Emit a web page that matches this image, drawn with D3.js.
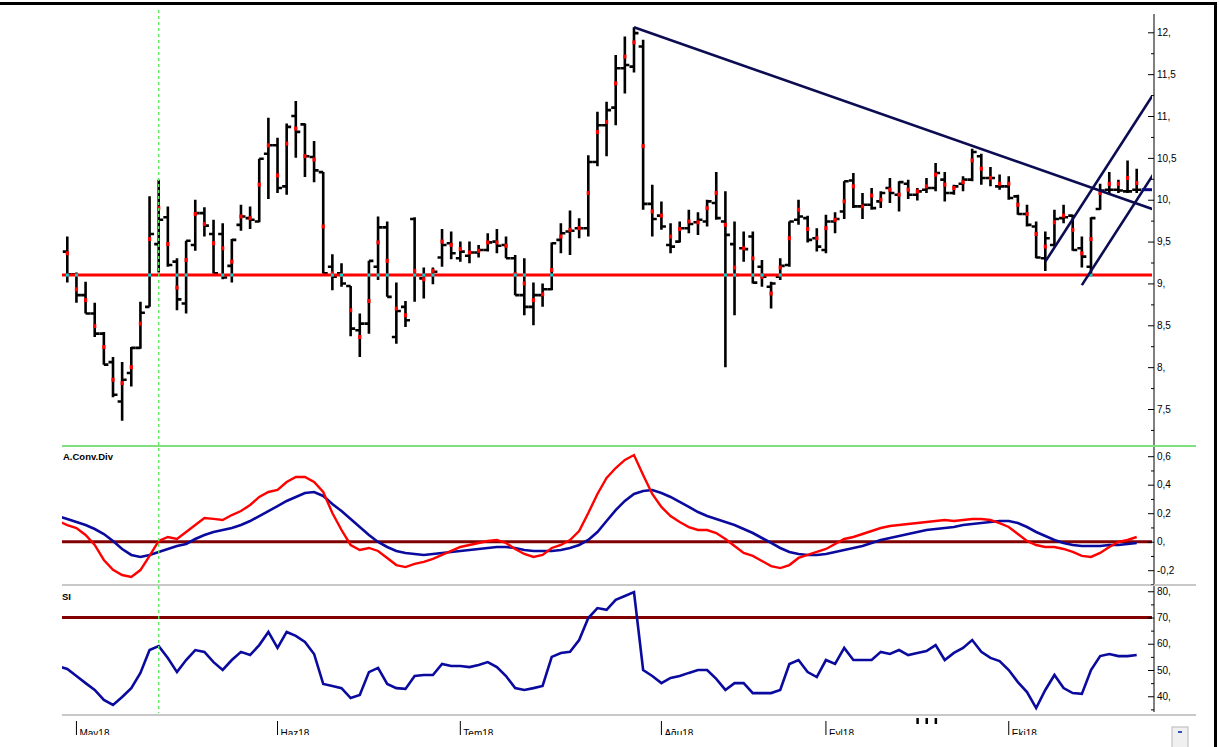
<!DOCTYPE html>
<html>
<head>
<meta charset="utf-8">
<script src="https://cdn.jsdelivr.net/npm/d3@7"></script>
<style>
  body { margin: 0; background: #fff; }
  svg { display: block; }
  text { font-family: "Liberation Sans", Arial, sans-serif; font-size: 10px; fill: #000; }
</style>
</head>
<body>
<div id="chart"></div>
<script>
// daily bars, 30 Apr 2018 .. 19 Oct 2018
const opens = [9.38,9.11,8.86,8.64,8.40,8.06,7.59,7.93,8.23,8.72,
  9.47,9.79,9.26,8.76,9.46,9.84,9.59,9.59,9.21,9.70,
  9.78,9.74,10.55,10.65,10.16,11.00,10.90,10.51,10.33,9.20,
  9.12,8.97,8.44,8.52,9.20,9.67,8.36,8.72,9.77,9.06,
  9.10,9.31,9.48,9.30,9.33,9.37,9.40,9.50,9.46,9.30,
  8.86,8.72,8.86,8.93,9.52,9.62,9.66,9.66,10.45,10.89,
  11.10,11.57,11.59,11.83,9.95,9.81,9.46,9.50,9.66,9.73,
  9.74,9.96,9.74,9.47,9.42,9.56,9.20,8.96,9.08,9.22,
  9.76,9.78,9.54,9.40,9.74,9.86,10.23,9.92,9.94,9.98,
  10.14,10.06,10.19,10.06,10.12,10.14,10.24,10.08,10.19,10.24,
  10.52,10.26,10.16,10.16,10.04,9.83,9.68,9.30,9.46,9.78,
  9.81,9.42,9.20,9.89,10.12,10.12,10.10,10.12];
const highs = [9.56,9.13,9.02,8.77,8.42,8.12,8.06,8.24,8.78,10.04,
  10.24,9.92,9.30,9.51,10.00,9.91,9.76,9.72,9.53,9.94,
  9.92,10.49,10.98,10.74,10.91,11.18,10.91,10.70,10.33,9.35,
  9.24,8.97,8.64,9.27,9.80,9.74,9.01,8.79,9.79,9.19,
  9.19,9.65,9.62,9.50,9.50,9.46,9.60,9.65,9.56,9.34,
  9.30,9.01,9.00,9.49,9.72,9.87,9.78,10.53,11.05,11.17,
  11.73,11.95,12.06,11.91,10.18,9.98,9.72,9.74,9.88,9.85,
  10.00,10.33,10.10,9.74,9.62,9.62,9.28,9.02,9.30,9.74,
  10.00,9.81,9.66,9.82,9.85,10.22,10.32,10.08,10.14,10.10,
  10.26,10.22,10.24,10.14,10.26,10.44,10.33,10.18,10.28,10.61,
  10.55,10.39,10.30,10.28,10.06,9.94,9.74,9.62,9.88,9.94,
  9.82,9.56,9.79,10.19,10.33,10.24,10.47,10.37];
const lows = [9.01,8.77,8.64,8.36,8.03,7.64,7.36,7.77,8.22,8.72,
  9.13,9.20,8.68,8.64,9.39,9.56,9.12,9.05,9.01,9.63,
  9.65,9.73,10.01,10.08,10.06,10.50,10.27,10.21,9.12,8.92,
  8.96,8.37,8.12,8.40,9.04,8.84,8.28,8.48,8.78,8.82,
  8.99,9.20,9.29,9.26,9.24,9.31,9.38,9.36,9.30,8.86,
  8.62,8.50,8.72,8.92,9.36,9.34,9.54,9.56,10.40,10.52,
  10.89,11.27,11.52,9.88,9.56,9.64,9.36,9.49,9.60,9.58,
  9.68,9.76,8.00,8.62,9.26,9.00,8.96,8.70,9.04,9.20,
  9.70,9.49,9.38,9.36,9.60,9.77,9.90,9.77,9.88,9.90,
  9.96,9.86,10.01,9.99,10.08,10.10,9.98,10.06,10.10,10.22,
  10.18,10.16,10.12,10.00,9.82,9.68,9.30,9.15,9.44,9.72,
  9.39,9.19,9.10,9.88,10.08,10.08,10.08,10.08];
const closes = [9.11,8.86,8.64,8.40,8.03,7.67,7.85,8.23,8.65,9.59,
  9.76,9.22,8.81,9.51,9.84,9.69,9.12,9.07,9.52,9.80,
  9.76,10.49,10.65,10.14,10.87,10.81,10.52,10.35,9.12,9.08,
  9.00,8.46,8.52,9.27,9.67,8.84,8.67,8.56,9.10,9.10,
  9.14,9.46,9.36,9.38,9.37,9.40,9.49,9.45,9.30,8.86,
  8.72,8.86,8.93,9.48,9.60,9.63,9.66,10.45,10.89,11.07,
  11.57,11.61,11.99,9.95,9.77,9.68,9.44,9.66,9.71,9.76,
  9.98,9.78,9.58,9.10,9.41,9.01,9.08,9.00,9.21,9.74,
  9.80,9.52,9.44,9.74,9.77,10.22,9.92,9.94,9.90,10.08,
  10.08,10.21,10.06,10.10,10.14,10.32,10.08,10.16,10.24,10.57,
  10.26,10.26,10.16,10.02,9.83,9.70,9.31,9.54,9.77,9.79,
  9.40,9.32,9.78,10.11,10.12,10.11,10.10,10.12];
// weighted average price of each day (red mark on the bar)
const avgs = [9.36,8.93,8.80,8.49,8.24,7.85,7.81,8.00,8.52,9.53,
  9.90,9.47,8.95,9.28,9.83,9.71,9.48,9.42,9.26,9.80,
  9.78,10.18,10.65,10.29,10.67,10.85,10.52,10.48,9.68,9.12,
  9.10,8.68,8.36,8.79,9.49,9.27,8.70,8.62,9.15,9.05,
  9.15,9.50,9.46,9.41,9.37,9.39,9.49,9.49,9.45,9.11,
  9.00,8.80,8.87,9.16,9.56,9.64,9.66,10.08,10.81,10.93,
  11.39,11.71,11.88,10.64,9.86,9.81,9.56,9.65,9.74,9.73,
  9.90,10.08,9.70,9.19,9.42,9.30,9.08,8.88,9.19,9.54,
  9.88,9.65,9.54,9.66,9.76,9.98,10.16,9.92,10.05,10.00,
  10.12,10.06,10.12,10.10,10.16,10.30,10.18,10.14,10.21,10.47,
  10.37,10.26,10.19,10.19,9.94,9.83,9.59,9.44,9.73,9.81,
  9.64,9.36,9.53,10.08,10.19,10.19,10.26,10.20];

// indicator series start one bar before the first visible bar
const indStart = -1;
const macdLine = [0.145,0.117,0.096,0.047,-0.023,-0.128,-0.198,-0.234,-0.248,-0.199,
  -0.10,0.005,0.033,0.019,0.068,0.117,0.166,0.16,0.152,0.187,
  0.215,0.258,0.314,0.349,0.363,0.419,0.454,0.454,0.419,0.349,
  0.201,0.082,-0.023,-0.058,-0.044,-0.065,-0.114,-0.164,-0.178,-0.156,
  -0.142,-0.121,-0.093,-0.065,-0.037,-0.023,-0.009,0.005,0.012,-0.009,
  -0.051,-0.086,-0.107,-0.093,-0.044,-0.023,0.012,0.075,0.201,0.335,
  0.447,0.517,0.574,0.608,0.468,0.335,0.244,0.18,0.138,0.103,
  0.082,0.082,0.061,0.019,-0.03,-0.079,-0.1,-0.135,-0.171,-0.185,
  -0.164,-0.114,-0.093,-0.072,-0.051,-0.016,0.019,0.033,0.054,0.075,
  0.096,0.11,0.117,0.124,0.131,0.138,0.145,0.152,0.145,0.152,
  0.159,0.159,0.152,0.131,0.103,0.054,0.005,-0.023,-0.037,-0.037,
  -0.051,-0.072,-0.1,-0.107,-0.079,-0.037,-0.002,0.012,0.033];
const signalLine = [0.18,0.159,0.138,0.117,0.089,0.054,0.005,-0.051,-0.093,-0.107,
  -0.093,-0.072,-0.051,-0.03,-0.016,0.019,0.047,0.068,0.082,0.096,
  0.117,0.145,0.18,0.215,0.25,0.286,0.314,0.342,0.349,0.321,
  0.265,0.215,0.159,0.103,0.047,-0.002,-0.037,-0.065,-0.079,-0.086,
  -0.093,-0.086,-0.079,-0.072,-0.065,-0.058,-0.051,-0.044,-0.037,-0.037,
  -0.044,-0.058,-0.065,-0.065,-0.065,-0.058,-0.044,-0.023,0.012,0.068,
  0.145,0.222,0.286,0.335,0.356,0.363,0.342,0.314,0.279,0.244,
  0.208,0.18,0.159,0.138,0.117,0.089,0.061,0.026,-0.009,-0.044,
  -0.072,-0.086,-0.093,-0.093,-0.086,-0.072,-0.058,-0.044,-0.03,-0.009,
  0.012,0.026,0.04,0.054,0.068,0.082,0.089,0.096,0.103,0.117,
  0.124,0.131,0.138,0.145,0.145,0.131,0.103,0.068,0.04,0.012,
  -0.009,-0.023,-0.03,-0.03,-0.03,-0.023,-0.023,-0.016,-0.009];
const rsiLine = [51.5,50.4,47.7,45.0,42.4,38.6,36.7,39.7,43.1,48.9,
  57.6,59.1,54.6,49.2,53.8,57.6,56.9,53.0,50.0,53.8,
  56.9,55.7,59.5,64.5,58.4,64.5,63.0,60.7,56.1,44.7,
  43.9,43.1,39.3,40.5,49.2,50.8,44.7,43.1,42.8,47.7,
  48.1,48.1,52.3,51.5,51.5,51.1,51.9,53.0,51.1,47.7,
  43.1,42.4,43.1,43.9,55.0,56.5,56.9,61.4,69.8,73.6,
  72.9,76.7,78.2,79.7,50.0,47.7,45.0,47.0,47.7,48.9,
  50.0,50.0,46.6,42.4,45.0,45.0,41.2,41.2,41.2,42.4,
  52.3,53.8,49.2,47.3,53.8,52.3,58.4,53.8,53.8,53.8,
  56.9,56.1,57.6,55.7,56.5,57.2,59.5,53.8,56.5,58.4,
  61.4,56.9,54.6,53.4,50.0,45.4,41.6,35.5,42.4,48.1,
  43.1,41.2,40.9,50.0,55.3,56.1,55.3,55.3,55.7];

const monthLabels = ["May18", "Haz18", "Tem18", "Ağu18", "Eyl18", "Eki18"];
const monthIdx = [1, 23, 43, 65, 83, 103];
const markIdx = [93, 94, 95];
const cursorIdx = 10;

const supportLevel = 9.1;
const rsiLevel = 70;
// drawn lines: [bar index, price]
const trendDown = [[62, 12.06], [118.7, 9.89]];
const channelUpper = [[107, 9.26], [118.7, 11.24]];
const channelLower = [[111, 8.98], [118.8, 10.30]];

const priceMajor = [7.5, 8, 8.5, 9, 9.5, 10, 10.5, 11, 11.5, 12];
const priceMinor = [7.25, 7.75, 8.25, 8.75, 9.25, 9.75, 10.25, 10.75, 11.25, 11.75, 12.25];
const macdMajor = [-0.2, 0, 0.2, 0.4, 0.6];
const macdMinor = [-0.3, -0.1, 0.1, 0.3, 0.5];
const rsiMajor = [40, 50, 60, 70, 80];
const rsiMinor = [35, 45, 55, 65, 75];

const W = 1219, H = 747;
const left = 62, right = 1152, axisX = 1154, sepRight = 1196;
const pricePanel = [6, 446], macdPanel = [447, 584], rsiPanel = [586, 714];

const svg = d3.select("#chart").append("svg")
    .attr("width", W).attr("height", H)
    .attr("viewBox", `0 0 ${W} ${H}`);

const defs = svg.append("defs");
function clip(id, x, y, w, h){
    defs.append("clipPath").attr("id", id)
        .append("rect").attr("x", x).attr("y", y).attr("width", w).attr("height", h);
    return `url(#${id})`;
}

const n = closes.length;
const x = d3.scaleLinear().domain([0, n - 1]).range([67.3, 1136.7]);
const yP = d3.scaleLinear().domain([7.5, 12]).range([409, 32.3]);
const yM = d3.scaleLinear().domain([-0.2, 0.6]).range([570.2, 456.2]);
const yR = d3.scaleLinear().domain([40, 80]).range([696.25, 591.25]);

const trNum = v => {
    const s = String(Math.round(v * 10) / 10);
    return s.includes(".") ? s.replace(".", ",") : s + ",";
};

// separators between panels
svg.append("line").attr("x1", left).attr("x2", sepRight).attr("y1", 446).attr("y2", 446)
    .attr("stroke", "#7ee07e").attr("stroke-width", 2);
[585, 715].forEach(y => svg.append("line").attr("x1", left).attr("x2", sepRight)
    .attr("y1", y).attr("y2", y).attr("stroke", "#c8c8c8").attr("stroke-width", 2));

// ---- price panel
const pg = svg.append("g").attr("clip-path", clip("cp", left, pricePanel[0], right - left, pricePanel[1] - pricePanel[0]));

pg.selectAll("path.bar")
    .data(d3.range(n))
    .join("path")
    .classed("bar", true)
    .attr("d", i => `M${x(i)},${yP(highs[i])}V${yP(lows[i])}` +
        `M${x(i) - 4.5},${yP(opens[i])}H${x(i)}` +
        `M${x(i)},${yP(closes[i])}H${x(i) + 4.5}`)
    .attr("fill", "none").attr("stroke", "#000").attr("stroke-width", 2.6);

pg.selectAll("rect.avg")
    .data(d3.range(n))
    .join("rect")
    .classed("avg", true)
    .attr("x", i => x(i) - 1.6).attr("y", i => yP(avgs[i]) - 2)
    .attr("width", 3.2).attr("height", 4)
    .attr("fill", "#ff0000");

pg.append("line")
    .attr("x1", left).attr("x2", right)
    .attr("y1", yP(supportLevel)).attr("y2", yP(supportLevel))
    .attr("stroke", "#ff0000").attr("stroke-width", 3);

pg.selectAll("rect.cross")
    .data(d3.range(n).filter(i => lows[i] <= supportLevel && highs[i] >= supportLevel))
    .join("rect")
    .classed("cross", true)
    .attr("x", i => x(i) - 1.5).attr("y", yP(supportLevel) - 1.5)
    .attr("width", 3).attr("height", 3)
    .attr("fill", "#00d8d8");

const lineGen = d3.line().x(d => x(d[0])).y(d => yP(d[1]));
[trendDown, channelUpper, channelLower].forEach(seg => {
    pg.append("path").attr("d", lineGen(seg))
        .attr("fill", "none").attr("stroke", "#0c0c52").attr("stroke-width", 2.6);
});
pg.append("line")
    .attr("x1", x(n - 1) + 5).attr("x2", right + 1)
    .attr("y1", yP(closes[n - 1])).attr("y2", yP(closes[n - 1]))
    .attr("stroke", "#0c0c80").attr("stroke-width", 3);

// ---- macd panel
const mg = svg.append("g").attr("clip-path", clip("cm", left, macdPanel[0], right - left, macdPanel[1] - macdPanel[0]));
mg.append("line").attr("x1", left).attr("x2", right).attr("y1", yM(0)).attr("y2", yM(0))
    .attr("stroke", "#820000").attr("stroke-width", 3);
const indLine = scale => d3.line().x((d, i) => x(i + indStart)).y(d => scale(d));
mg.append("path").attr("d", indLine(yM)(signalLine))
    .attr("fill", "none").attr("stroke", "#0a0a9e").attr("stroke-width", 2.6);
mg.append("path").attr("d", indLine(yM)(macdLine))
    .attr("fill", "none").attr("stroke", "#ff0000").attr("stroke-width", 2.4);
mg.append("text").attr("x", 63).attr("y", 460)
    .style("font-weight", "bold").style("font-size", "9.5px").text("A.Conv.Div");

// ---- rsi panel
const rg = svg.append("g").attr("clip-path", clip("cr", left, rsiPanel[0], right - left, rsiPanel[1] - rsiPanel[0]));
rg.append("line").attr("x1", left).attr("x2", right).attr("y1", yR(rsiLevel)).attr("y2", yR(rsiLevel))
    .attr("stroke", "#820000").attr("stroke-width", 3);
rg.append("path").attr("d", indLine(yR)(rsiLine))
    .attr("fill", "none").attr("stroke", "#0a0a9e").attr("stroke-width", 2.6);
rg.append("text").attr("x", 62).attr("y", 600)
    .style("font-weight", "bold").style("font-size", "9.5px").text("SI");

// cursor line
svg.append("line")
    .attr("x1", x(cursorIdx)).attr("x2", x(cursorIdx))
    .attr("y1", 10).attr("y2", 713)
    .attr("stroke", "#5fe85f").attr("stroke-width", 1.4)
    .attr("stroke-dasharray", "3,3");

// ---- right axes
function drawAxis(scale, major, minor, y0, y1, clipId){
    const g = svg.append("g")
        .attr("transform", `translate(${axisX},0)`)
        .attr("clip-path", clip(clipId, -10, y0, 70, y1 - y0 + 1));
    g.append("line").attr("y1", y0).attr("y2", y1).attr("stroke", "#000");
    g.append("g")
        .call(d3.axisRight(scale).tickValues(minor).tickSize(-3).tickFormat(""))
        .call(a => a.select(".domain").remove());
    g.append("g")
        .call(d3.axisRight(scale).tickValues(major).tickSize(-6).tickPadding(3).tickFormat(trNum))
        .call(a => a.select(".domain").remove())
        .call(a => a.selectAll("text")
            .attr("font-family", "'Liberation Sans', Arial, sans-serif")
            .attr("font-size", 10));
}
drawAxis(yP, priceMajor, priceMinor, 14, 445, "ap");
drawAxis(yM, macdMajor, macdMinor, 447, 584, "am");
drawAxis(yR, rsiMajor, rsiMinor, 586, 712, "ar");

// ---- month labels
const xg = svg.append("g").attr("clip-path", clip("cx", left, 716, right - left, 19));
const months = xg.selectAll("g.month")
    .data(monthIdx)
    .join("g")
    .classed("month", true)
    .attr("transform", d => `translate(${x(d)},0)`);
months.append("line").attr("y1", 721).attr("y2", 735).attr("stroke", "#000");
months.append("text").attr("x", 3).attr("y", 737)
    .style("font-size", "10px")
    .text((d, i) => monthLabels[i]);

svg.selectAll("rect.mark")
    .data(markIdx)
    .join("rect")
    .classed("mark", true)
    .attr("x", d => x(d) - 1).attr("y", 718)
    .attr("width", 2.5).attr("height", 6)
    .attr("fill", "#000");

// scroll button and frame
svg.append("rect").attr("x", 1172).attr("y", 727).attr("width", 16).attr("height", 22)
    .attr("fill", "#f0f0f0").attr("stroke", "#b8b8b8");
svg.append("rect").attr("x", 1178).attr("y", 731).attr("width", 4).attr("height", 2).attr("fill", "#3050c0");
svg.append("line").attr("x1", 0).attr("x2", 1217).attr("y1", 3.5).attr("y2", 3.5)
    .attr("stroke", "#000").attr("stroke-width", 3);
svg.append("line").attr("x1", 1215.5).attr("x2", 1215.5).attr("y1", 2).attr("y2", H)
    .attr("stroke", "#000").attr("stroke-width", 3);
</script>
</body>
</html>
